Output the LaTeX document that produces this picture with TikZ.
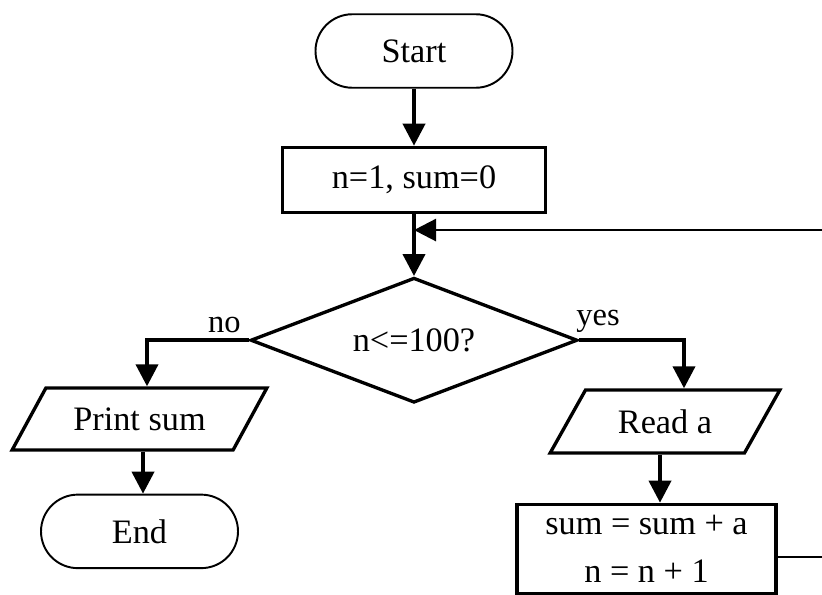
\documentclass[tikz,border=0pt]{standalone}
\usepackage{fontspec}
\setmainfont{Liberation Serif}
\usepackage{tikz}
\usetikzlibrary{positioning,arrows.meta,shapes.geometric,calc}

\begin{document}
\begin{tikzpicture}[
    termStyle/.style={
        rectangle, rounded corners=0.735cm, draw=black, line width=1.1pt,
        minimum width=3.94cm, minimum height=1.47cm, inner sep=0pt,
        font=\fontsize{19.5}{23.5}\selectfont
    },
    procStyle/.style={
        rectangle, draw=black, line width=1.9pt, align=center, inner sep=0pt,
        font=\fontsize{19.5}{23.5}\selectfont
    },
    decStyle/.style={
        diamond, aspect=2.616, draw=black, line width=1.9pt, inner sep=0pt,
        minimum width=6.54cm, minimum height=2.5cm,
        font=\fontsize{19.5}{23.5}\selectfont
    },
    ioStyle/.style={
        trapezium, trapezium stretches=true, draw=black, line width=1.9pt,
        inner sep=0pt, font=\fontsize{19.5}{23.5}\selectfont
    },
    labelStyle/.style={font=\fontsize{18.5}{22}\selectfont, inner sep=0pt},
    arrowStyle/.style={-{Triangle[length=0.44cm, width=0.44cm]}, line width=2.2pt, draw=black},
    loopStyle/.style={-{Triangle[length=0.44cm, width=0.44cm]}, line width=1.5pt, draw=black}
]
    \useasboundingbox (0,0) rectangle (16.44,-11.9);
    \clip (0,0) rectangle (16.44,-11.9);

    % Main column
    \node[termStyle] (start) at (8.28,-1.02) {Start};
    \node[procStyle, minimum width=5.26cm, minimum height=1.3cm, below=1.14cm of start] (init) {n=1, sum=0};
    \node[decStyle, below=1.24cm of init] (test) {n\textless=100?};
    \coordinate[below=0.32cm of init.south] (join);

    % Left branch
    \node[ioStyle, trapezium left angle=44, trapezium right angle=136,
          minimum width=5.1cm, minimum height=1.24cm] (print) at (2.79,-8.38) {Print sum};
    \node[termStyle, below=0.84cm of print] (stop) {End};

    % Right branch
    \node[ioStyle, trapezium left angle=49, trapezium right angle=131,
          minimum width=4.6cm, minimum height=1.26cm] (read) at (13.3,-8.43) {Read a};
    \node[procStyle, minimum width=5.18cm, minimum height=1.78cm,
          below=0.96cm of read, xshift=-0.37cm] (update) {sum = sum + a\\[4pt] n = n + 1};

    % Arrows
    \draw[arrowStyle] (start) -- (init);
    \draw[arrowStyle] (init) -- (test);
    \draw[arrowStyle] (test.west) -| node[labelStyle, pos=0.12, above=0.1cm] {no} ([xshift=0.15cm]print.north);
    \draw[arrowStyle] (test.east) -| node[labelStyle, pos=0.09, above=0.12cm] {yes} ([xshift=0.38cm]read.north);
    \draw[arrowStyle] ([xshift=0.07cm]print.south) -- ([xshift=0.07cm]print.south |- stop.north);
    \draw[arrowStyle] ([xshift=-0.1cm]read.south) -- ([xshift=-0.1cm]read.south |- update.north);
    \draw[loopStyle] ([yshift=-0.16cm]update.east) -- ++(1,0) |- (join);
\end{tikzpicture}
\end{document}
